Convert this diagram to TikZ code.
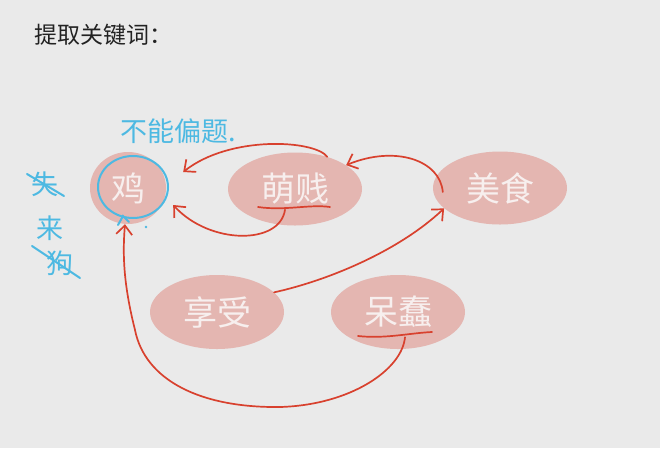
\documentclass[tikz,border=0pt]{standalone}
\usepackage{fontspec}
\newfontfamily\cjk{Noto Sans CJK SC}
\usetikzlibrary{shapes.geometric,arrows.meta}
\definecolor{bg}{HTML}{EAEAEA}
\definecolor{pinkfill}{HTML}{E4B6B1}
\definecolor{pinktext}{HTML}{F7EFEE}
\definecolor{redline}{HTML}{D8412E}
\definecolor{blueink}{HTML}{4DB9E2}
\definecolor{titlecol}{HTML}{222222}
\begin{document}
\begin{tikzpicture}[x=1pt,y=-1pt,
  kw/.style={ellipse, fill=pinkfill, text=pinktext, inner sep=0pt,
    minimum width=134pt, minimum height=73pt,
    font=\cjk\fontsize{34}{34}\selectfont},
  redarrow/.style={draw=redline, line width=1.7pt, line cap=round, line join=round,
    -{Straight Barb[length=9pt,width=16pt,line width=1.7pt]}},
  redmark/.style={draw=redline, line width=1.7pt, line cap=round},
  bluemark/.style={draw=blueink, line width=2pt, line cap=round},
  bluetext/.style={text=blueink, inner sep=0pt, font=\cjk\fontsize{27}{27}\selectfont}
]
\fill[bg] (0,0) rectangle (660,448);
\useasboundingbox (0,0) rectangle (660,448);

\node[anchor=west, text=titlecol, inner sep=0pt, font=\cjk\fontsize{23}{23}\selectfont] (title) at (34,35) {提取关键词：};

\node[kw, minimum width=76pt, minimum height=72pt] (ji) at (128,188) {鸡};
\node[kw] (meng) at (295,189) {萌贱};
\node[kw] (mei) at (500,188) {美食};
\node[kw, minimum height=74pt] (xiang) at (217,312) {享受};
\node[kw, minimum height=74pt] (dai) at (398,312) {呆蠢};

% underlines
\draw[redmark] (258,207) .. controls (285,211) and (310,204) .. (330,207);
\draw[redmark] (358,336) .. controls (385,339) and (410,333) .. (432,332);

% connectors
\draw[redarrow] (meng.45) .. controls (315,140) and (230,135) .. ([xshift=17pt,yshift=16pt]ji.east);
\draw[redarrow] ([xshift=-10pt,yshift=16pt]meng.south) .. controls (280,245) and (210,245) .. ([xshift=7pt,yshift=-17pt]ji.east);
\draw[redarrow] ([xshift=10pt,yshift=-4pt]mei.west) .. controls (440,160) and (395,145) .. (meng.25);
\draw[redarrow] (xiang.19) .. controls (330,280) and (400,250) .. (mei.200);
\draw[redarrow] ([xshift=7pt,yshift=12pt]dai.south) .. controls (402,370) and (350,405) .. (280,407)
   .. controls (200,408) and (145,380) .. (135,330)
   .. controls (125,290) and (122,260) .. ([xshift=-3pt]ji.south);

% blue annotations
\node[ellipse, draw=blueink, line width=2pt, minimum width=70pt, minimum height=62pt, inner sep=0pt] (circ) at (133,187) {};
\draw[bluemark] (118,225) -- (123,216) -- (129,222);
\fill[blueink] (146,227) circle (1.3pt);
\node[bluetext, anchor=west] (note) at (120,131) {不能偏题.};
\node[bluetext] (c1) at (45,184) {失};
\node[bluetext] (c2) at (50,228) {来};
\node[bluetext] (c3) at (60,263) {狗};
\draw[bluemark] (27,174) -- (64,196);
\draw[bluemark] (32,246) -- (80,278);
\end{tikzpicture}
\end{document}
